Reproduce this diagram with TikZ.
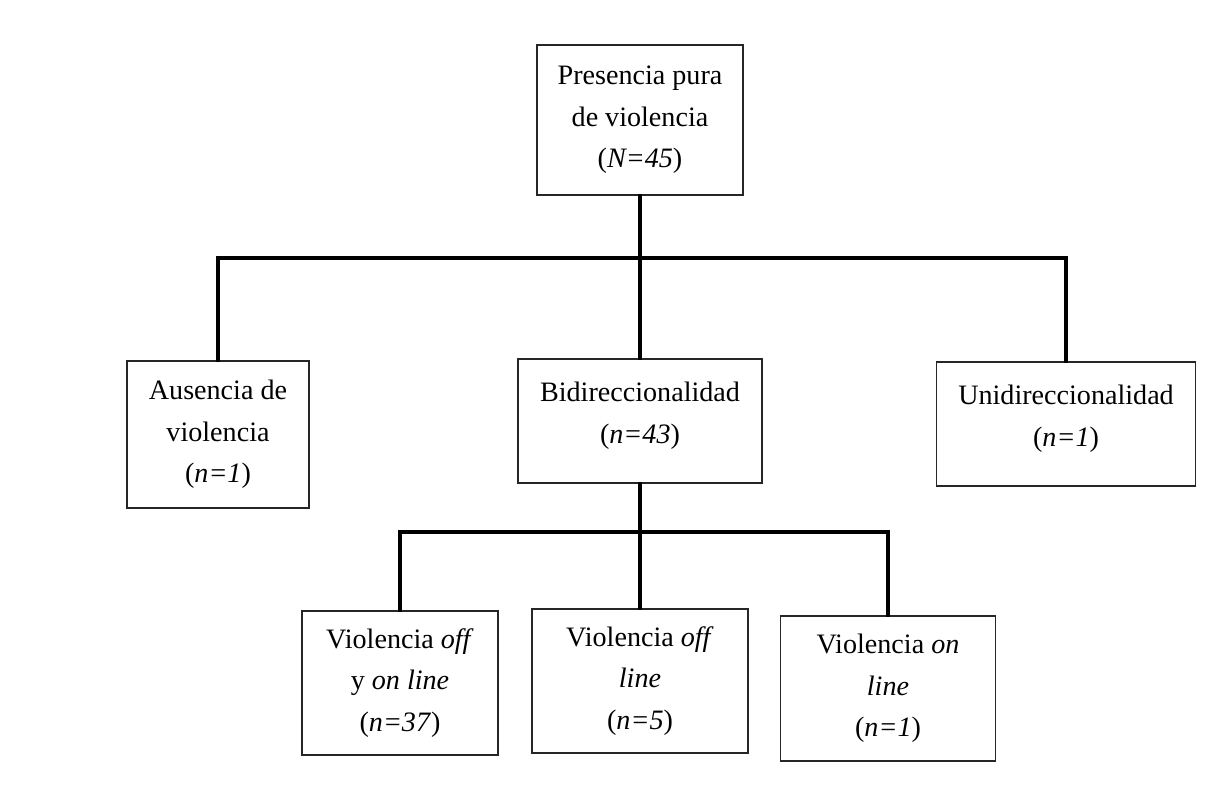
\documentclass[tikz,border=0pt]{standalone}
\usepackage{fontspec}
\setmainfont{Liberation Serif}
\begin{document}
\begin{tikzpicture}[
    box/.style={draw=black!85, line width=1.2pt, align=center, inner sep=2pt,
                font=\fontsize{20}{29.5}\selectfont},
    link/.style={line width=2.6pt, line cap=rect}
  ]
  \useasboundingbox (0,0) rectangle (30.775,19.925);
  % top level
  \node[box, minimum width=5.15cm, minimum height=3.75cm] (pura) at (16.0,16.925)
    {Presencia pura\\de violencia\\(\textit{N=45})};
  % second level
  \node[box, minimum width=4.55cm, minimum height=3.675cm] (ausencia) at (5.45,9.0625)
    {Ausencia de\\violencia\\(\textit{n=1})};
  \node[box, minimum width=6.1cm, minimum height=3.1cm] (bidir) at (16.0,9.4)
    {Bidireccionalidad\\(\textit{n=43})\\[-18pt]\mbox{}};
  \node[box, minimum width=6.475cm, minimum height=3.1cm] (unidir) at (26.65,9.325)
    {Unidireccionalidad\\(\textit{n=1})\\[-18pt]\mbox{}};
  % third level
  \node[box, minimum width=4.9cm, minimum height=3.6cm] (offon) at (10.0,2.85)
    {Violencia \textit{off}\\y \textit{on line}\\(\textit{n=37})};
  \node[box, minimum width=5.4cm, minimum height=3.6cm] (off) at (16.0,2.9)
    {Violencia \textit{off}\\\textit{line}\\(\textit{n=5})};
  \node[box, minimum width=5.375cm, minimum height=3.625cm] (online) at (22.2,2.7125)
    {Violencia \textit{on}\\\textit{line}\\(\textit{n=1})};
  % bus lines
  \coordinate (busA) at (0,13.475);
  \coordinate (busB) at (0,6.625);
  \draw[link] (pura.south) -- (bidir.north);
  \draw[link] (ausencia.north) |- (unidir.north |- busA) -- (unidir.north);
  \draw[link] (bidir.south) -- (off.north);
  \draw[link] (offon.north) |- (online.north |- busB) -- (online.north);
\end{tikzpicture}
\end{document}
